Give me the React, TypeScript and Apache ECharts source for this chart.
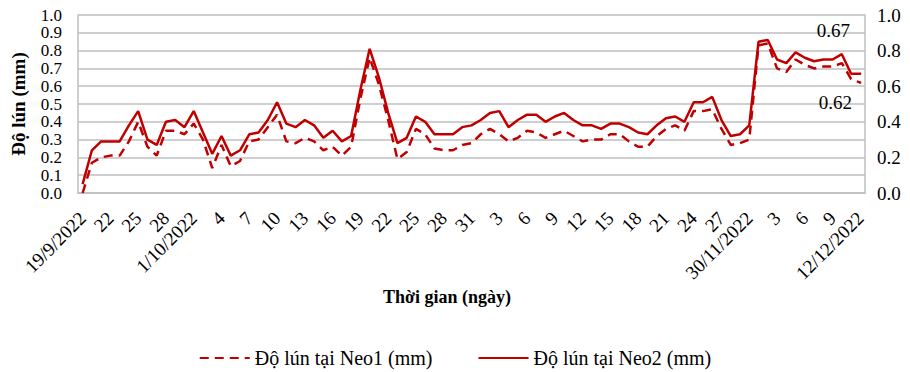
import React, { useEffect, useRef } from "react";
import * as echarts from "echarts";

// Categories: consecutive days 19/9/2022 .. 12/12/2022
const monthRanges: [number, number, number][] = [
  [9, 19, 30],
  [10, 1, 31],
  [11, 1, 30],
  [12, 1, 12],
];
const categories: string[] = [];
monthRanges.forEach(([m, a, b]) => {
  for (let d = a; d <= b; d++) categories.push(`${d}/${m}/2022`);
});

// Labels shown on every third day
const tickLabels = [
  "19/9/2022", "22", "25", "28", "1/10/2022", "4", "7", "10", "13", "16",
  "19", "22", "25", "28", "31", "3", "6", "9", "12", "15", "18", "21", "24",
  "27", "30/11/2022", "3", "6", "9", "12/12/2022",
];

const neo1 = [
  0.0, 0.17, 0.2, 0.21, 0.21, 0.29, 0.4, 0.26, 0.21, 0.35,
  0.35, 0.33, 0.39, 0.3, 0.14, 0.27, 0.15, 0.18, 0.29, 0.3,
  0.37, 0.44, 0.29, 0.28, 0.31, 0.29, 0.24, 0.26, 0.21, 0.26,
  0.53, 0.76, 0.61, 0.41, 0.19, 0.23, 0.36, 0.33, 0.25, 0.24,
  0.24, 0.27, 0.28, 0.33, 0.36, 0.33, 0.29, 0.31, 0.35, 0.34,
  0.31, 0.33, 0.35, 0.32, 0.29, 0.3, 0.3, 0.33, 0.33, 0.29,
  0.26, 0.26, 0.32, 0.36, 0.38, 0.35, 0.46, 0.46, 0.47, 0.36,
  0.27, 0.28, 0.3, 0.83, 0.84, 0.7, 0.68, 0.75, 0.72, 0.7,
  0.71, 0.71, 0.73, 0.64, 0.62,
];

const neo2 = [
  0.05, 0.24, 0.29, 0.29, 0.29, 0.38, 0.46, 0.3, 0.27, 0.4,
  0.41, 0.37, 0.46, 0.34, 0.22, 0.32, 0.21, 0.24, 0.33, 0.34,
  0.41, 0.51, 0.39, 0.37, 0.41, 0.38, 0.31, 0.35, 0.29, 0.32,
  0.58, 0.81, 0.65, 0.45, 0.28, 0.31, 0.43, 0.4, 0.33, 0.33,
  0.33, 0.37, 0.38, 0.41, 0.45, 0.46, 0.37, 0.41, 0.44, 0.44,
  0.4, 0.43, 0.45, 0.41, 0.38, 0.38, 0.36, 0.39, 0.39, 0.37,
  0.34, 0.33, 0.38, 0.42, 0.43, 0.4, 0.51, 0.51, 0.54, 0.41,
  0.32, 0.33, 0.38, 0.85, 0.86, 0.75, 0.73, 0.79, 0.76, 0.74,
  0.75, 0.75, 0.78, 0.67, 0.67,
];

const seriesNames = ["Độ lún tại Neo1 (mm)", "Độ lún tại Neo2 (mm)"];
const FONT = "Liberation Serif";
const RED = "#C00000";
const GRID = "#BFBFBF";

function withEndLabel(arr: number[], position: string, offset: number[]) {
  const last = arr.length - 1;
  return arr.map((v, i) =>
    i === last
      ? {
          value: v,
          symbol: "circle",
          symbolSize: 2,
          label: {
            show: true,
            position,
            formatter: v.toFixed(2),
            offset,
            fontSize: 19,
            color: "#000",
            fontFamily: FONT,
          },
        }
      : { value: v, symbol: "none" }
  );
}

export default function App() {
  const ref = useRef<HTMLDivElement>(null);
  useEffect(() => {
    document.body.style.margin = "0";
    if (!ref.current) return;
    const chart = echarts.init(ref.current, undefined, { renderer: "svg" });
    chart.setOption({
      animation: false,
      textStyle: { fontFamily: FONT },
      grid: { left: 78, right: 45, top: 15, bottom: 179 },
      legend: {
        top: 343,
        left: "center",
        itemWidth: 50,
        itemHeight: 10,
        itemGap: 45,
        data: seriesNames,
        itemStyle: { opacity: 0 },
        textStyle: { fontSize: 20, color: "#000", fontFamily: FONT },
      },
      xAxis: {
        type: "category",
        data: categories,
        boundaryGap: true,
        axisLine: { lineStyle: { color: GRID, width: 1.5 } },
        axisTick: { show: false },
        axisLabel: {
          interval: 2,
          rotate: 45,
          fontSize: 19,
          lineHeight: 15,
          color: "#000",
          margin: 22,
          fontFamily: FONT,
          showMinLabel: true,
          showMaxLabel: true,
          hideOverlap: false,
          formatter: (_v: string, i: number) => tickLabels[Math.round(i / 3)] ?? "",
        },
      },
      yAxis: [
        {
          type: "value",
          min: 0,
          max: 1,
          interval: 0.1,
          name: "Độ lún (mm)",
          nameLocation: "middle",
          nameGap: 50,
          nameTextStyle: { fontSize: 19, fontWeight: "bold", color: "#000", fontFamily: FONT },
          axisLine: { show: true, lineStyle: { color: GRID, width: 1.5 } },
          axisTick: { show: false },
          splitLine: { lineStyle: { color: GRID, width: 1.5 } },
          axisLabel: {
            fontSize: 17,
            lineHeight: 15,
            color: "#000",
            margin: 16,
            fontFamily: FONT,
            showMinLabel: true,
            showMaxLabel: true,
            hideOverlap: false,
            formatter: (v: number) => v.toFixed(1),
          },
        },
        {
          type: "value",
          min: 0,
          max: 1,
          interval: 0.2,
          position: "right",
          axisLine: { show: true, lineStyle: { color: GRID, width: 1.5 } },
          axisTick: { show: false },
          splitLine: { show: false },
          axisLabel: {
            fontSize: 19,
            color: "#000",
            margin: 12,
            fontFamily: FONT,
            showMinLabel: true,
            showMaxLabel: true,
            formatter: (v: number) => v.toFixed(1),
          },
        },
      ],
      series: [
        {
          name: seriesNames[0],
          type: "line",
          data: withEndLabel(neo1, "bottom", [-25, 4]),
          symbol: "none",
          lineStyle: { color: RED, width: 2.5, type: [9, 6] },
          itemStyle: { color: RED },
        },
        {
          name: seriesNames[1],
          type: "line",
          data: withEndLabel(neo2, "top", [-27, -28]),
          symbol: "none",
          lineStyle: { color: RED, width: 2.5 },
          itemStyle: { color: RED },
        },
      ],
      graphic: [
        {
          type: "text",
          left: 383,
          top: 288,
          style: {
            text: "Thời gian (ngày)",
            fontSize: 18,
            fontWeight: "bold",
            fontFamily: FONT,
            fill: "#000",
          },
        },
      ],
    });
    return () => chart.dispose();
  }, []);
  return <div ref={ref} style={{ width: 910, height: 372 }} />;
}
